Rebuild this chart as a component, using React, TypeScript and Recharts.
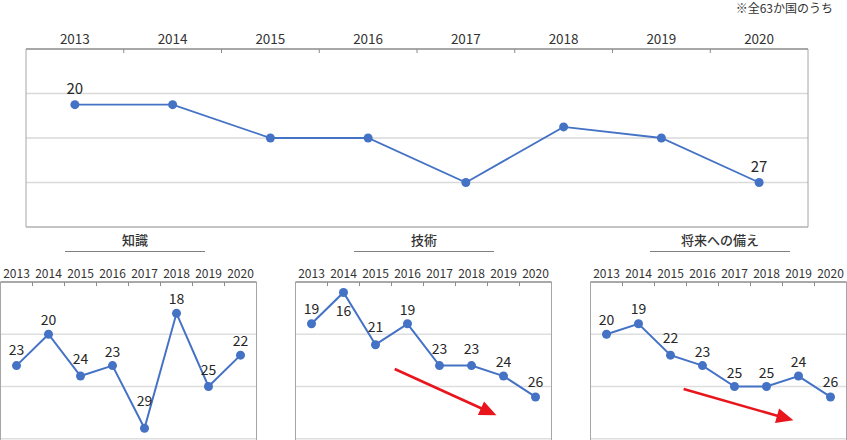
import React from 'react';
import {
  LineChart,
  Line,
  XAxis,
  YAxis,
  CartesianGrid,
  ReferenceArea,
  ReferenceLine,
  LabelList,
} from 'recharts';

const years = ['2013', '2014', '2015', '2016', '2017', '2018', '2019', '2020'];
const overallRank = [20, 20, 23, 23, 27, 22, 23, 27];
const knowledgeRank = [23, 20, 24, 23, 29, 18, 25, 22];
const technologyRank = [19, 16, 21, 19, 23, 23, 24, 26];
const futureRank = [20, 19, 22, 23, 25, 25, 24, 26];
const panelTitles = ['知識', '技術', '将来への備え'];
const note = '※全63か国のうち';

const FONT = '"Noto Sans CJK JP", "Noto Sans", sans-serif';
const BLUE = '#4472c4';
const RED = '#e8161c';
const TEXT = '#333333';

const toRows = (ranks: number[]) => years.map((year, i) => ({ i, year, rank: ranks[i] }));
const yearIdx = years.map((_, i) => i);

// year label + small boundary tick pointing into the plot
const makeTick = (plotTop: number, band: number, fontSize: number, lift: number) => (p: any) => {
  const idx = p.payload.value as number;
  return (
    <g>
      <text x={p.x} y={plotTop - lift} textAnchor="middle" fontSize={fontSize} fill={TEXT} fontFamily={FONT}>
        {years[idx]}
      </text>
      {idx > 0 && (
        <line x1={p.x - band / 2} x2={p.x - band / 2} y1={plotTop} y2={plotTop + 4} stroke="#8c8c8c" />
      )}
    </g>
  );
};

const makeLabel = (dys: number[] | null, fontSize: number, showAll: boolean) => (p: any) => {
  const x = p.x ?? p.viewBox?.x;
  const y = p.y ?? p.viewBox?.y;
  const idx = p.index as number;
  if (!showAll && idx !== 0 && idx !== years.length - 1) return null;
  const dy = dys ? dys[idx] : 16;
  return (
    <text x={x} y={y - dy + fontSize * 0.36} textAnchor="middle" fontSize={fontSize} fill="#262626" fontFamily={FONT}>
      {p.value}
    </text>
  );
};

const arrowShape = (p: any) => {
  const { x1, y1, x2, y2 } = p;
  const dx = x2 - x1;
  const dy = y2 - y1;
  const len = Math.hypot(dx, dy) || 1;
  const ux = dx / len;
  const uy = dy / len;
  const head = 17;
  const half = 7.5;
  const bx = x2 - ux * head;
  const by = y2 - uy * head;
  return (
    <g>
      <line x1={x1} y1={y1} x2={bx + ux * 2} y2={by + uy * 2} stroke={RED} strokeWidth={2.6} />
      <polygon
        points={`${x2},${y2} ${bx - uy * half},${by + ux * half} ${bx + uy * half},${by - ux * half}`}
        fill={RED}
      />
    </g>
  );
};

function MainChart() {
  const plotTop = 49;
  const band = (808 - 26) / 8;
  return (
    <div style={{ position: 'absolute', left: 0, top: 0 }}>
      <LineChart width={847} height={240} data={toRows(overallRank)} margin={{ top: 19, right: 39, bottom: 13, left: 26 }}>
        <CartesianGrid vertical={false} stroke="#d9d9d9" strokeWidth={1.6} />
        <ReferenceArea x1={-0.5} x2={7.5} y1={15} y2={31} fill="none" stroke="#a6a6a6" ifOverflow="visible" />
        <XAxis
          dataKey="i"
          type="number"
          orientation="top"
          domain={[-0.5, 7.5]}
          ticks={yearIdx}
          interval={0}
          height={30}
          tickLine={false}
          axisLine={{ stroke: '#8c8c8c' }}
          tick={makeTick(plotTop, band, 13.5, 5.5)}
          allowDataOverflow
        />
        <YAxis hide reversed type="number" domain={[15, 31]} ticks={[19, 23, 27]} allowDataOverflow />
        <Line
          dataKey="rank"
          stroke={BLUE}
          strokeWidth={1.8}
          dot={{ r: 4.5, fill: BLUE, stroke: BLUE, strokeWidth: 0 }}
          activeDot={false}
          isAnimationActive={false}
        >
          <LabelList dataKey="rank" content={makeLabel(null, 15, false)} />
        </Line>
      </LineChart>
    </div>
  );
}

type PanelProps = {
  left: number;
  titleLeft: number;
  title: string;
  ranks: number[];
  dys: number[];
  arrow?: { x: number; y: number }[];
};

function Panel({ left, titleLeft, title, ranks, dys, arrow }: PanelProps) {
  const plotTop = 32; // in chart coordinates (page y 282)
  const band = 256 / 8;
  return (
    <>
      <div
        style={{
          position: 'absolute',
          left: titleLeft,
          top: 231,
          width: 140,
          lineHeight: '18px',
          paddingBottom: 2,
          borderBottom: '1px solid #808080',
          textAlign: 'center',
          fontSize: 13,
          fontWeight: 500,
          color: TEXT,
          fontFamily: FONT,
        }}
      >
        {title}
      </div>
      <div style={{ position: 'absolute', left, top: 250 }}>
        <LineChart width={257} height={241} data={toRows(ranks)} margin={{ top: 2, right: 0.5, bottom: 0, left: 0.5 }}>
          <CartesianGrid vertical={false} stroke="#dedede" strokeWidth={1.6} />
          <ReferenceArea x1={-0.5} x2={7.5} y1={15} y2={35} fill="none" stroke="#a6a6a6" ifOverflow="visible" />
          <XAxis
            dataKey="i"
            type="number"
            orientation="top"
            domain={[-0.5, 7.5]}
            ticks={yearIdx}
            interval={0}
            height={30}
            tickLine={false}
            axisLine={{ stroke: '#8c8c8c' }}
            tick={makeTick(plotTop, band, 12, 4.5)}
            allowDataOverflow
          />
          <YAxis hide reversed type="number" domain={[15, 35]} ticks={[20, 25, 30]} allowDataOverflow />
          {arrow && <ReferenceLine segment={arrow} shape={arrowShape} ifOverflow="visible" />}
          <Line
            dataKey="rank"
            stroke={BLUE}
            strokeWidth={2}
            dot={{ r: 4.5, fill: BLUE, stroke: BLUE, strokeWidth: 0 }}
            activeDot={false}
            isAnimationActive={false}
          >
            <LabelList dataKey="rank" content={makeLabel(dys, 14, true)} />
          </Line>
        </LineChart>
      </div>
    </>
  );
}

export default function App() {
  return (
    <div
      style={{
        position: 'absolute',
        left: 0,
        top: 0,
        width: 847,
        height: 440,
        overflow: 'hidden',
        background: '#fff',
        fontFamily: FONT,
      }}
    >
      <div
        style={{
          position: 'absolute',
          right: 14,
          top: 0,
          lineHeight: '16px',
          fontSize: 12,
          color: TEXT,
        }}
      >
        {note}
      </div>
      <MainChart />
      <Panel left={0} titleLeft={65} title={panelTitles[0]} ranks={knowledgeRank} dys={[16, 14, 17, 14, 27, 14, 17, 14]} />
      <Panel
        left={295}
        titleLeft={354}
        title={panelTitles[1]}
        ranks={technologyRank}
        dys={[15, -19, 18, 14, 17, 17, 14, 15]}
        arrow={[
          { x: 2.6, y: 23.33 },
          { x: 5.78, y: 27.75 },
        ]}
      />
      <Panel
        left={590}
        titleLeft={650}
        title={panelTitles[2]}
        ranks={futureRank}
        dys={[14, 15, 17, 14, 14, 14, 14, 15]}
        arrow={[
          { x: 2.41, y: 25.25 },
          { x: 5.84, y: 28.24 },
        ]}
      />
    </div>
  );
}
